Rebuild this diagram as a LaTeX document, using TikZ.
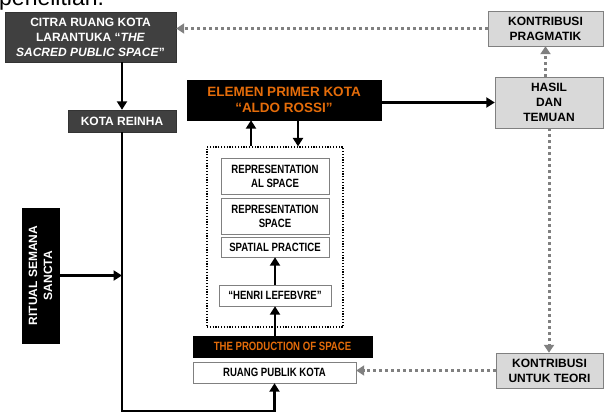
\documentclass[tikz,border=0pt]{standalone}
\usepackage{fontspec}
\setmainfont{Liberation Sans}
\newfontfamily\etroit[FakeStretch=0.8]{Liberation Sans}
\usetikzlibrary{arrows.meta}
\definecolor{orangeR}{RGB}{228,108,10}
\definecolor{grisF}{RGB}{64,64,64}
\definecolor{grisC}{RGB}{217,217,217}
\definecolor{grisT}{RGB}{128,128,128}
\begin{document}
\begin{tikzpicture}[x=1pt,y=-1pt,
	boite/.style={draw,align=center,inner sep=0pt,font=\bfseries\fontsize{12}{15}\selectfont},
	sombre/.style={boite,fill=grisF,draw=black!80,text=white},
	noire/.style={boite,fill=black,text=orangeR},
	claire/.style={boite,fill=grisC,draw=grisT,text=black},
	blanche/.style={boite,fill=white,draw=grisT,font=\etroit\bfseries\fontsize{12}{14}\selectfont},
	fleche/.style={line width=2.5pt,-{Triangle[width=10pt,length=8.5pt]}},
	pointille/.style={grisT,line width=3pt,dash pattern=on 3pt off 3pt,-{Triangle[width=10pt,length=8pt]}}]
%					Cadre de la figure :
					\useasboundingbox (0,0) rectangle (607,412);
					\node[anchor=base west,inner sep=0pt,font=\fontsize{23}{23}\selectfont] (titre) at (-1,6) {penelitian.};
%					Tracé des boîtes de gauche :
					\node[sombre,minimum width=171pt,minimum height=50pt] (citra) at (90.5,37) {CITRA RUANG KOTA\\LARANTUKA “\textit{THE}\\\textit{SACRED PUBLIC SPACE}”};
					\node[sombre,minimum width=108pt,minimum height=22pt] (reinha) at (122,121) {KOTA REINHA};
					\node[noire,text=white,font=\fontsize{12}{15}\selectfont\bfseries,rotate=90,minimum width=135pt,minimum height=37pt] (rituel) at (40.5,275.5) {RITUAL SEMANA\\SANCTA};
%					Tracé des boîtes du centre :
					\node[noire,minimum width=194pt,minimum height=40pt,font=\bfseries\fontsize{13.5}{15.5}\selectfont] (elemen) at (284,100) {ELEMEN PRIMER KOTA\\“ALDO ROSSI”};
					\node[draw,line width=1.2pt,dash pattern=on 1.2pt off 1.6pt,minimum width=136pt,minimum height=180pt] (cadre) at (275,237) {};
					\node[blanche,minimum width=108pt,minimum height=36pt] (repal) at (275,176) {REPRESENTATION\\AL SPACE};
					\node[blanche,minimum width=108pt,minimum height=36pt] (repsp) at (275,216) {REPRESENTATION\\SPACE};
					\node[blanche,minimum width=108pt,minimum height=20pt] (spatial) at (275,247) {SPATIAL PRACTICE};
					\node[blanche,minimum width=112pt,minimum height=21pt] (henri) at (275,295.5) {“HENRI LEFEBVRE”};
					\node[noire,font=\etroit\bfseries\fontsize{12}{14}\selectfont,minimum width=179pt,minimum height=21pt] (produksi) at (282.5,346.5) {THE PRODUCTION OF SPACE};
					\node[blanche,minimum width=163pt,minimum height=21pt] (ruang) at (274.5,372.5) {RUANG PUBLIK KOTA};
%					Tracé des boîtes de droite :
					\node[claire,minimum width=115pt,minimum height=35pt] (pragmatik) at (545.5,28.5) {KONTRIBUSI\\PRAGMATIK};
					\node[claire,minimum width=108pt,minimum height=51pt] (hasil) at (549,102.5) {HASIL\\DAN\\TEMUAN};
					\node[claire,minimum width=107pt,minimum height=35pt] (teori) at (549.5,370.5) {KONTRIBUSI\\UNTUK TEORI};
%					Tracé des flèches pleines :
					\coordinate (coin) at (122,411);
					\draw[fleche] (reinha.north |- citra.south) -- (reinha.north);
					\draw[fleche] (reinha.south) -- (coin) -- (coin -| ruang.south) -- (ruang.south);
					\draw[fleche] (rituel.south) -- (reinha.south |- rituel.south);
					\draw[fleche] ([xshift=-24pt]cadre.north) -- ([xshift=-24pt]cadre.north |- elemen.south);
					\draw[fleche] ([xshift=23pt]cadre.north |- elemen.south) -- ([xshift=23pt]cadre.north);
					\draw[fleche] (henri.south |- produksi.north) -- (henri.south);
					\draw[fleche] (henri.north) -- (spatial.south);
					\draw[fleche] (elemen.east |- hasil.west) -- (hasil.west);
%					Tracé des flèches pointillées :
					\draw[pointille] (pragmatik.south |- hasil.north) -- (pragmatik.south);
					\draw[pointille] (pragmatik.west) -- (citra.east |- pragmatik.west);
					\draw[pointille] (hasil.south) -- (hasil.south |- teori.north);
					\draw[pointille] (teori.west) -- (ruang.east |- teori.west);
				\end{tikzpicture}
\end{document}
